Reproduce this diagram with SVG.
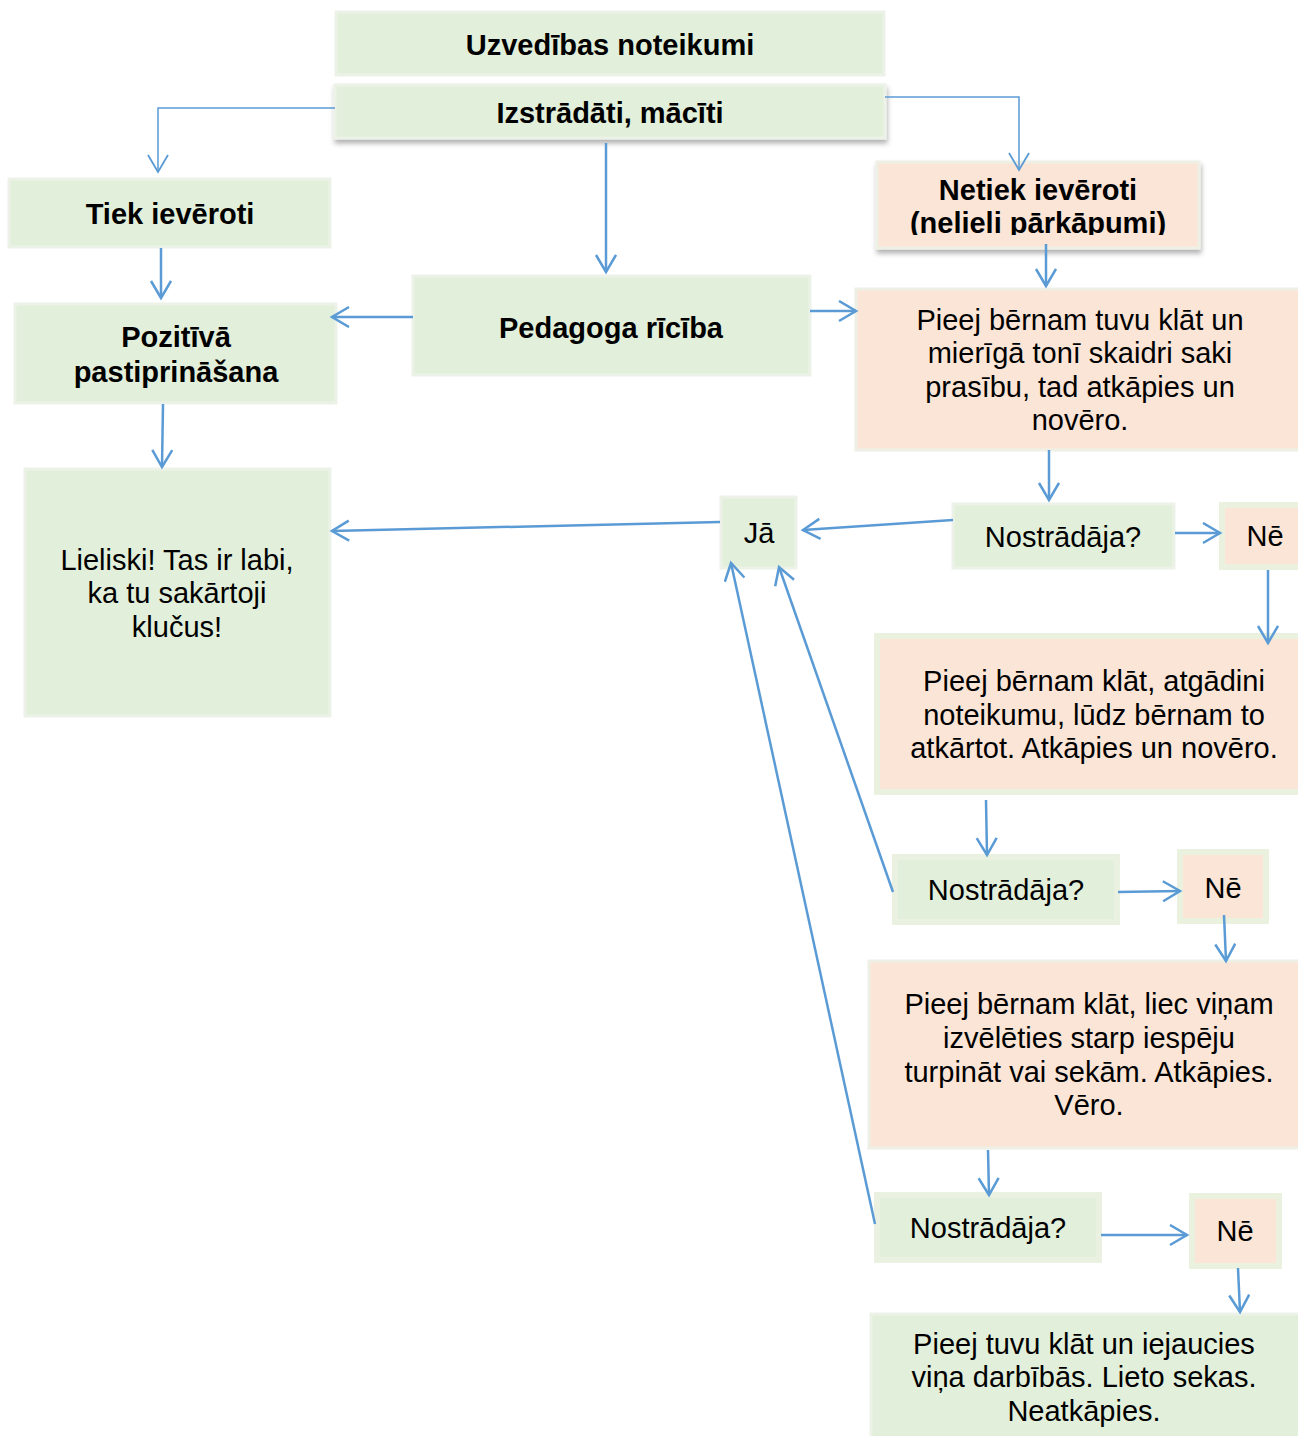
<svg xmlns="http://www.w3.org/2000/svg" width="1298" height="1436" viewBox="0 0 1298 1436">
<defs>
<style>
.g{fill:#E2EFDA;stroke:#EDF2E8;stroke-width:3}
.p{fill:#FBE5D6;stroke:#EEF0E6;stroke-width:3}
.pf{fill:#FBE5D6;stroke:#EAF1DE;stroke-width:6}
.b{font-family:"Liberation Sans",Arial,sans-serif;font-size:29px;font-weight:bold;fill:#000;text-anchor:middle}
.t{font-family:"Liberation Sans",Arial,sans-serif;font-size:29px;fill:#000;text-anchor:middle}
.c{fill:none;stroke:#5B9BD5;stroke-width:2.5}
.c1{fill:none;stroke:#5B9BD5;stroke-width:1.5}
</style>
<marker id="a" markerUnits="userSpaceOnUse" markerWidth="22" markerHeight="24" refX="18" refY="11" orient="auto">
<path d="M1,1 L18,11 L1,21" fill="none" stroke="#5B9BD5" stroke-width="2.5"/>
</marker>
<marker id="a1" markerUnits="userSpaceOnUse" markerWidth="22" markerHeight="24" refX="18" refY="11" orient="auto">
<path d="M1,1 L18,11 L1,21" fill="none" stroke="#5B9BD5" stroke-width="1.8"/>
</marker>
<filter id="sh" x="-5%" y="-20%" width="110%" height="160%">
<feDropShadow dx="1" dy="4" stdDeviation="2.5" flood-color="#000" flood-opacity="0.3"/>
</filter>
<clipPath id="clip4"><rect x="877" y="162" width="322" height="73"/></clipPath>
</defs>

<g id="n1"><rect class="g" x="336" y="12" width="548" height="63"/><text class="b" x="610" y="55">Uzvedības noteikumi</text></g>
<g id="n2"><rect class="g" x="335" y="85" width="550" height="53" filter="url(#sh)"/><text class="b" x="610" y="123">Izstrādāti, mācīti</text></g>
<g id="n3"><rect class="g" x="9" y="179" width="321" height="68"/><text class="b" x="170" y="224">Tiek ievēroti</text></g>
<g id="n4"><rect class="p" x="877" y="162" width="322" height="86" filter="url(#sh)"/>
<g clip-path="url(#clip4)"><text class="b" x="1038" y="200">Netiek ievēroti</text><text class="b" x="1038" y="233">(nelieli pārkāpumi)</text></g></g>
<g id="n5"><rect class="g" x="413" y="276" width="397" height="99"/><text class="b" x="611" y="338">Pedagoga rīcība</text></g>
<g id="n6"><rect class="g" x="15" y="304" width="321" height="99"/><text class="b" x="176" y="347">Pozitīvā</text><text class="b" x="176" y="382">pastiprināšana</text></g>
<g id="n7"><rect class="p" x="856" y="289" width="445" height="161"/>
<text class="t" x="1080" y="330">Pieej bērnam tuvu klāt un</text><text class="t" x="1080" y="363">mierīgā tonī skaidri saki</text><text class="t" x="1080" y="397">prasību, tad atkāpies un</text><text class="t" x="1080" y="430">novēro.</text></g>
<g id="n8"><rect class="g" x="25" y="469" width="305" height="247"/>
<text class="t" x="177" y="570">Lieliski! Tas ir labi,</text><text class="t" x="177" y="603">ka tu sakārtoji</text><text class="t" x="177" y="637">klučus!</text></g>
<g id="n9"><rect class="g" x="721" y="497" width="75" height="71"/><text class="t" x="759" y="543">Jā</text></g>
<g id="n10"><rect class="g" x="953" y="504" width="221" height="64"/><text class="t" x="1063" y="547">Nostrādāja?</text></g>
<g id="n11"><rect class="pf" x="1222" y="505" width="80" height="62"/><text class="t" x="1265" y="546">Nē</text></g>
<g id="n12"><rect class="pf" x="877" y="636" width="425" height="156"/>
<text class="t" x="1094" y="691">Pieej bērnam klāt, atgādini</text><text class="t" x="1094" y="725">noteikumu, lūdz bērnam to</text><text class="t" x="1094" y="758">atkārtot. Atkāpies un novēro.</text></g>
<g id="n13"><rect class="g" x="895" y="857" width="222" height="65" style="stroke:#EAF1E0;stroke-width:6"/><text class="t" x="1006" y="900">Nostrādāja?</text></g>
<g id="n14"><rect class="pf" x="1180" y="852" width="86" height="69"/><text class="t" x="1223" y="898">Nē</text></g>
<g id="n15"><rect class="p" x="869" y="961" width="432" height="187"/>
<text class="t" x="1089" y="1014">Pieej bērnam klāt, liec viņam</text><text class="t" x="1089" y="1048">izvēlēties starp iespēju</text><text class="t" x="1089" y="1082">turpināt vai sekām. Atkāpies.</text><text class="t" x="1089" y="1115">Vēro.</text></g>
<g id="n16"><rect class="g" x="877" y="1195" width="222" height="65" style="stroke:#EAF1E0;stroke-width:6"/><text class="t" x="988" y="1238">Nostrādāja?</text></g>
<g id="n17"><rect class="pf" x="1192" y="1196" width="87" height="70"/><text class="t" x="1235" y="1241">Nē</text></g>
<g id="n18"><rect class="g" x="871" y="1314" width="430" height="125"/>
<text class="t" x="1084" y="1354">Pieej tuvu klāt un iejaucies</text><text class="t" x="1084" y="1387">viņa darbībās. Lieto sekas.</text><text class="t" x="1084" y="1421">Neatkāpies.</text></g>

<g id="connectors">
<path class="c1" d="M335,108 H158 V172" marker-end="url(#a1)"/>
<path class="c1" d="M885,97 H1019 V170" marker-end="url(#a1)"/>
<path class="c" d="M606,143 V272" marker-end="url(#a)"/>
<path class="c" d="M161,248 V298" marker-end="url(#a)"/>
<path class="c" d="M413,317 H332" marker-end="url(#a)"/>
<path class="c" d="M810,311 H856" marker-end="url(#a)"/>
<path class="c" d="M1046,244 V286" marker-end="url(#a)"/>
<path class="c" d="M163,404 L162,467" marker-end="url(#a)"/>
<path class="c" d="M1049,450 V500" marker-end="url(#a)"/>
<path class="c" d="M953,520 L803,530" marker-end="url(#a)"/>
<path class="c" d="M720,522 L332,531" marker-end="url(#a)"/>
<path class="c" d="M1175,533 H1220" marker-end="url(#a)"/>
<path class="c" d="M1268,570 V643" marker-end="url(#a)"/>
<path class="c" d="M986,800 L987,855" marker-end="url(#a)"/>
<path class="c" d="M893,892 L779,567" marker-end="url(#a)"/>
<path class="c" d="M1118,892 L1180,891" marker-end="url(#a)"/>
<path class="c" d="M1224,915 L1226,961" marker-end="url(#a)"/>
<path class="c" d="M988,1150 L989,1195" marker-end="url(#a)"/>
<path class="c" d="M875,1224 L731,563" marker-end="url(#a)"/>
<path class="c" d="M1101,1235 H1187" marker-end="url(#a)"/>
<path class="c" d="M1238,1268 L1240,1312" marker-end="url(#a)"/>
</g>
</svg>
